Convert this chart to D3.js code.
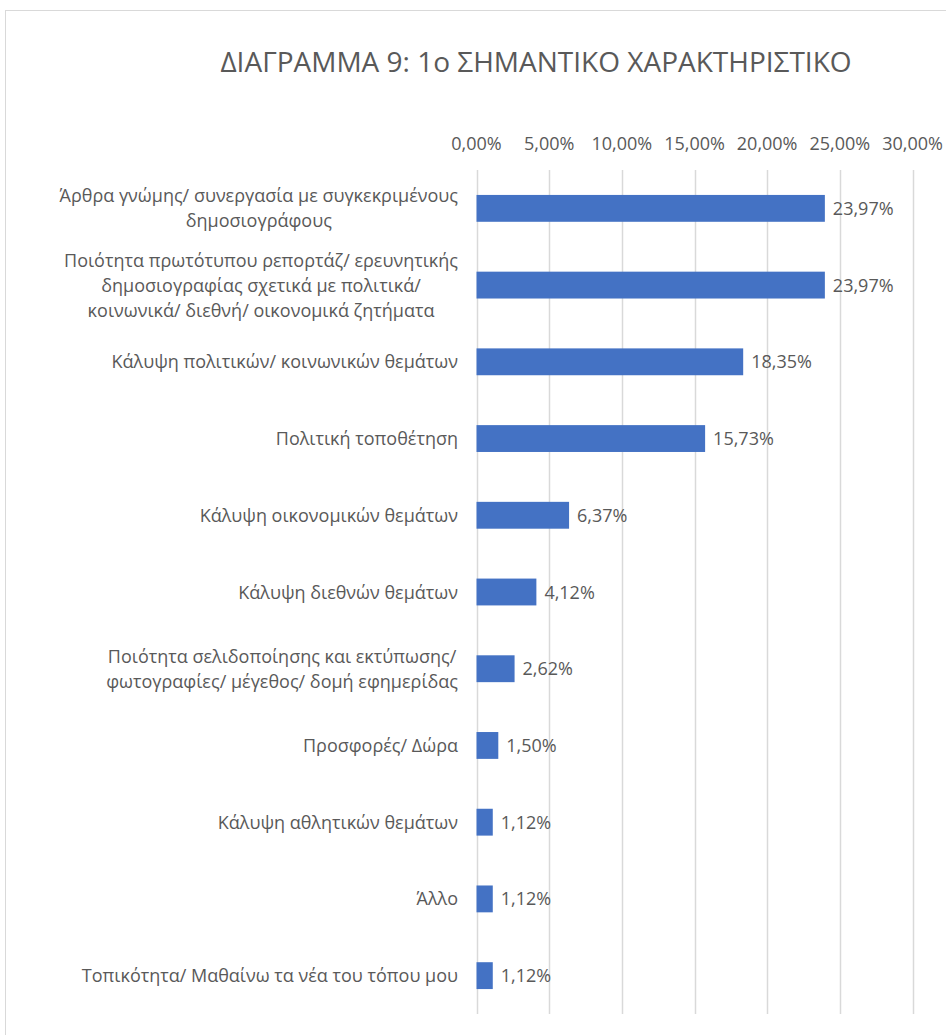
<!DOCTYPE html>
<html>
<head>
<meta charset="utf-8">
<script src="https://cdn.jsdelivr.net/npm/d3@7"></script>
<style>
  body { margin: 0; background: #fff; }
  text { font-family: "Open Sans", "Noto Sans", sans-serif; fill: #595959; }
</style>
</head>
<body>
<svg></svg>
<script>
// category labels, one entry per line of text
var categories = [
    ["Άρθρα γνώμης/ συνεργασία με συγκεκριμένους", "δημοσιογράφους"],
    ["Ποιότητα πρωτότυπου ρεπορτάζ/ ερευνητικής", "δημοσιογραφίας σχετικά με πολιτικά/", "κοινωνικά/ διεθνή/ οικονομικά ζητήματα"],
    ["Κάλυψη πολιτικών/ κοινωνικών θεμάτων"],
    ["Πολιτική τοποθέτηση"],
    ["Κάλυψη οικονομικών θεμάτων"],
    ["Κάλυψη διεθνών θεμάτων"],
    ["Ποιότητα σελιδοποίησης και εκτύπωσης/", "φωτογραφίες/ μέγεθος/ δομή εφημερίδας"],
    ["Προσφορές/ Δώρα"],
    ["Κάλυψη αθλητικών θεμάτων"],
    ["Άλλο"],
    ["Τοπικότητα/ Μαθαίνω τα νέα του τόπου μου"]
];
var values = [23.97, 23.97, 18.35, 15.73, 6.37, 4.12, 2.62, 1.50, 1.12, 1.12, 1.12];
var ticks = [0, 5, 10, 15, 20, 25, 30];

var svgWidth = 946, svgHeight = 1035;
// plot area (note: "top" is a reserved window prop, so use plotTop)
var plotLeft = 476.5, plotRight = 912.5, plotTop = 170, plotBottom = 1014;

var svg = d3.select('svg')
    .attr("width", svgWidth)
    .attr("height", svgHeight);

// outer chart frame (runs off the right/bottom edge)
svg.append("rect")
    .attr("x", 5.5).attr("y", 10.5)
    .attr("width", 960).attr("height", 1060)
    .attr("fill", "none")
    .attr("stroke", "#d9d9d9");

var fmt = function(v){ return d3.format(".2f")(v).replace(".", ",") + "%"; };

var x = d3.scaleLinear().domain([0, 30]).range([plotLeft, plotRight]);
var y = d3.scaleBand().domain(d3.range(categories.length))
    .range([plotTop, plotBottom]).paddingInner(0.65).paddingOuter(0.325);

// title
svg.append("text")
    .attr("x", 536).attr("y", 72)
    .attr("text-anchor", "middle")
    .style("font-size", "28px")
    .text("ΔΙΑΓΡΑΜΜΑ 9: 1ο ΣΗΜΑΝΤΙΚΟ ΧΑΡΑΚΤΗΡΙΣΤΙΚΟ");

// gridlines
svg.selectAll(".grid")
    .data(ticks)
    .enter()
    .append("line")
    .attr("class", "grid")
    .attr("x1", function(d){ return Math.round(x(d)) + 0.5; })
    .attr("x2", function(d){ return Math.round(x(d)) + 0.5; })
    .attr("y1", plotTop).attr("y2", plotBottom)
    .attr("stroke", "#d9d9d9")
    .attr("stroke-width", 1.5);

// top axis tick labels
svg.selectAll(".tick")
    .data(ticks)
    .enter()
    .append("text")
    .attr("class", "tick")
    .attr("x", function(d){ return x(d); })
    .attr("y", 150)
    .attr("text-anchor", "middle")
    .style("font-size", "18px")
    .text(function(d){ return fmt(d); });

// bars
svg.selectAll(".bar")
    .data(values)
    .enter()
    .append("rect")
    .attr("class", "bar")
    .attr("x", x(0))
    .attr("y", function(d, i){ return y(i); })
    .attr("width", function(d){ return x(d) - x(0); })
    .attr("height", y.bandwidth())
    .attr("fill", "#4472c4");

// value labels
svg.selectAll(".val")
    .data(values)
    .enter()
    .append("text")
    .attr("class", "val")
    .attr("x", function(d){ return x(d) + 8; })
    .attr("y", function(d, i){ return y(i) + y.bandwidth() / 2 + 6.5; })
    .style("font-size", "18px")
    .text(function(d){ return fmt(d); });

// category labels: block right-aligned, lines centred within block
var lineH = 25;
categories.forEach(function(lines, i){
    var cy = y(i) + y.bandwidth() / 2;
    var g = svg.append("g");
    var texts = g.selectAll("text")
        .data(lines)
        .enter()
        .append("text")
        .attr("y", function(d, j){ return cy + (j - (lines.length - 1) / 2) * lineH + 6.5; })
        .attr("text-anchor", "middle")
        .style("font-size", "18px")
        .text(function(d){ return d; });
    var maxW = 0;
    texts.each(function(){ maxW = Math.max(maxW, this.getComputedTextLength()); });
    texts.attr("x", 458 - maxW / 2);
});
</script>
</body>
</html>
